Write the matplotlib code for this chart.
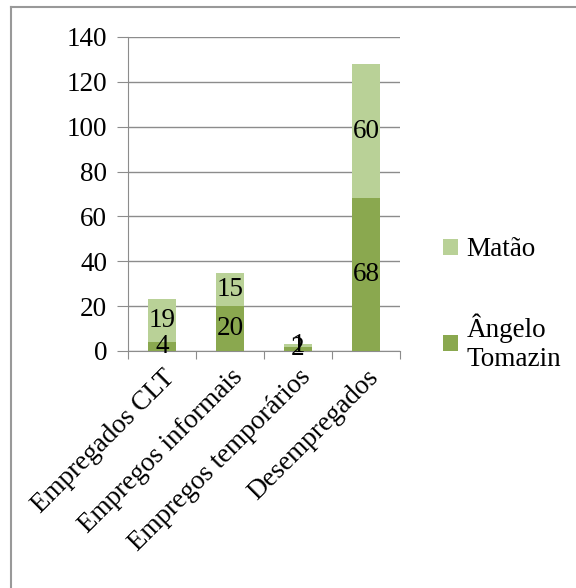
import matplotlib.pyplot as plt
from matplotlib.lines import Line2D

categories = ['Empregados CLT', 'Empregos informais', 'Empregos temporários', 'Desempregados']
angelo = [4, 20, 2, 68]
matao = [19, 15, 1, 60]

dark = '#8aa84f'
light = '#b9d197'
grid = '#8c8c8c'

plt.rcParams['font.family'] = ['Liberation Serif', 'DejaVu Serif']
fs = 19.5

fig = plt.figure(figsize=(5.76, 5.88), dpi=100)
ax = fig.add_axes([128 / 576, 1 - 351 / 588, 272 / 576, 314 / 588])

x = range(len(categories))
b1 = ax.bar(x, angelo, width=0.4, color=dark, zorder=3)
b2 = ax.bar(x, matao, width=0.4, bottom=angelo, color=light, zorder=3)

# value labels in the middle of each segment
for i in x:
    ax.text(i, angelo[i] / 2, str(angelo[i]), ha='center', va='center', fontsize=fs, zorder=4)
    ax.text(i, angelo[i] + matao[i] / 2, str(matao[i]), ha='center', va='center', fontsize=fs, zorder=4)

ax.set_ylim(0, 140)
ax.set_yticks(range(0, 141, 20))
ax.set_xlim(-0.5, 3.5)
ax.yaxis.grid(True, color=grid, linewidth=1)
ax.set_axisbelow(True)

for s in ['top', 'right']:
    ax.spines[s].set_visible(False)
ax.spines['left'].set_color(grid)
ax.spines['bottom'].set_color(grid)

ax.tick_params(axis='y', length=8, color=grid, labelsize=fs, pad=7)
ax.set_xticks([i - 0.5 for i in range(5)])
ax.set_xticklabels([''] * 5)
ax.tick_params(axis='x', which='major', length=6, color=grid)
ax.set_xticks(list(x), minor=True)
ax.set_xticklabels(categories, minor=True, rotation=45, ha='right', rotation_mode='anchor', fontsize=19.5)
ax.tick_params(axis='x', which='minor', length=0, pad=10)

fig.legend([b2, b1], ['Matão', 'Ângelo\nTomazin'], loc='upper left',
           bbox_to_anchor=(419 / 576, 1 - 213 / 588), frameon=False,
           fontsize=fs, handlelength=0.55, handleheight=0.55, handletextpad=0.3,
           labelspacing=1.9)

# chart frame: only the top and left edges are visible in the crop
fig.add_artist(Line2D([11 / 576, 11 / 576], [0, 1 - 7 / 588], transform=fig.transFigure,
                      color='#999999', linewidth=1.5))
fig.add_artist(Line2D([11 / 576, 1], [1 - 7 / 588, 1 - 7 / 588], transform=fig.transFigure,
                      color='#999999', linewidth=1.5))

fig.savefig('out.png', dpi=100)
